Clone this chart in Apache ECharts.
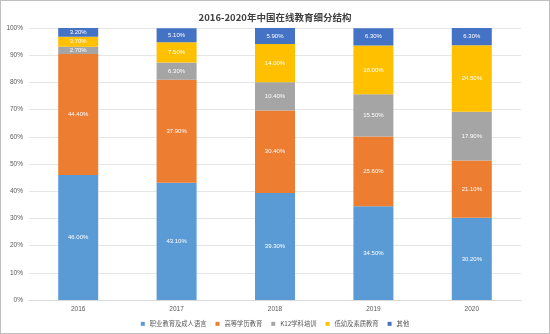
<!DOCTYPE html>
<html><head><meta charset="utf-8">
<script src="https://cdn.jsdelivr.net/npm/echarts@6/dist/echarts.min.js"></script>
<style>html,body{margin:0;padding:0;background:#fff}#c{width:550px;height:334px;box-sizing:border-box;border:1px solid #bfbfbf}</style>
</head><body><div id="c"></div>
<script>
const categories = ['2016','2017','2018','2019','2020'];
const seriesNames = ['职业教育及成人语言','高等学历教育','K12学科培训','低幼及素质教育','其他'];
const vocational = [46.00, 43.10, 39.30, 34.50, 30.20];
const higherEd = [44.40, 37.90, 30.40, 25.60, 21.10];
const k12 = [2.70, 6.30, 10.40, 15.50, 17.90];
const preschool = [3.70, 7.50, 14.00, 18.00, 24.50];
const others = [3.20, 5.10, 5.90, 6.30, 6.30];
const colors = ['#5B9BD5','#ED7D31','#A5A5A5','#FFC000','#4472C4'];
const datasets = [vocational, higherEd, k12, preschool, others];
const chart = echarts.init(document.getElementById('c'));
chart.setOption({
  animation:false,
  title:{text:'2016-2020年中国在线教育细分结构',left:'center',top:7,textStyle:{fontSize:9.5,fontWeight:'bold',color:'#404040',fontFamily:'Noto Sans CJK SC'}},
  grid:{left:28,right:28,top:27,bottom:33},
  legend:{bottom:1,left:'center',itemWidth:4,itemHeight:4,itemGap:9,icon:'rect',textStyle:{fontSize:6.3,color:'#595959',fontFamily:'Noto Sans CJK SC'},data:seriesNames},
  xAxis:{type:'category',data:categories,axisTick:{show:false},axisLine:{lineStyle:{color:'#d9d9d9'}},axisLabel:{fontSize:6.5,color:'#595959',margin:6}},
  yAxis:{type:'value',min:0,max:100,interval:10,axisLabel:{formatter:'{value}%',fontSize:6.5,color:'#595959',margin:6},splitLine:{lineStyle:{color:'#e6e6e6'}},axisLine:{show:false},axisTick:{show:false}},
  series: seriesNames.map((n,i)=>({
    name:n,type:'bar',stack:'total',barWidth:40,data:datasets[i],
    itemStyle:{color:colors[i]},
    label:{show:true,position:'inside',fontSize:6,color:'#fff',formatter:p=>p.value.toFixed(2)+'%'}
  }))
});
</script></body></html>
